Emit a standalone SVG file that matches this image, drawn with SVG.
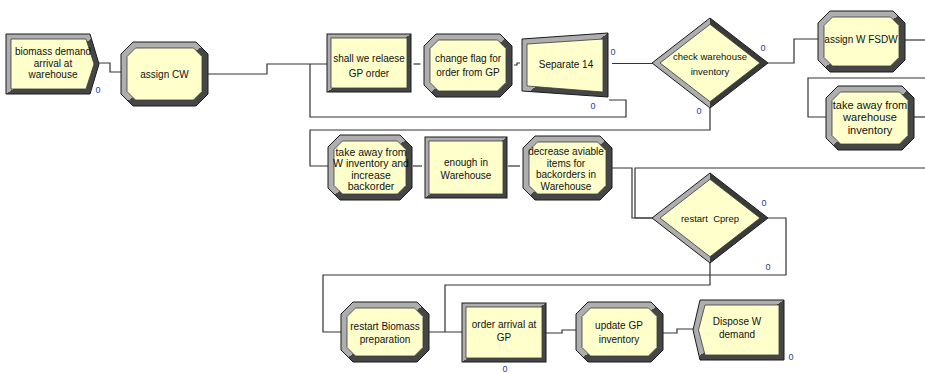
<svg xmlns="http://www.w3.org/2000/svg" width="925" height="373" viewBox="0 0 925 373">
<defs>
<linearGradient id="bv" x1="0" y1="0" x2="1" y2="1"><stop offset="0.5" stop-color="#aeaeae"/><stop offset="0.5" stop-color="#464646"/></linearGradient>
<linearGradient id="bvd" x1="0" y1="0" x2="1" y2="0"><stop offset="0.5" stop-color="#aeaeae"/><stop offset="0.5" stop-color="#3a3a3a"/></linearGradient>
<style>
.r{fill:url(#bv);stroke:#1a1a1a;stroke-width:1}
.rd{fill:url(#bvd);stroke:#1a1a1a;stroke-width:1}
.in{fill:#ffffcc;stroke:#3a3a3a;stroke-width:0.8}
.t{font-family:'Liberation Sans',Arial,sans-serif;font-size:10px;fill:#111;text-anchor:middle}
.z{font-family:'Liberation Sans',Arial,sans-serif;font-size:9px;fill:#1c3c9c;text-anchor:middle}
.c{fill:none;stroke:#333;stroke-width:1.2}
</style>
</defs>
<rect width="925" height="373" fill="#fff"/>
<g id="connectors">
<polyline class="c" points="99,63 110,63 110,72 121,72"/>
<polyline class="c" points="208,74 267,74 267,64 327,64"/>
<polyline class="c" points="609,100 626,100 626,117 310,117 310,64"/>
<polyline class="c" points="413.5,64 420.5,64"/>
<polyline class="c" points="514,65 517,65 517,63 520,63"/>
<polyline class="c" points="612,63.5 652,63.5"/>
<polyline class="c" points="768,63 794,63 794,39 818,39"/>
<polyline class="c" points="905,40 925,40"/>
<polyline class="c" points="925,78 808,78 808,117 826,117"/>
<polyline class="c" points="914,117 925,117"/>
<polyline class="c" points="710,108 710,130 310,130 310,166 328,166"/>
<polyline class="c" points="413,166 422,166"/>
<polyline class="c" points="508,166 520,166"/>
<polyline class="c" points="612,168 632,168 632,218 652,218"/>
<polyline class="c" points="925,168 635,168 635,218 652,218"/>
<polyline class="c" points="768,218 786,218 786,275 323,275 323,332 341,332"/>
<polyline class="c" points="710,263 710,285 445,285 445,332"/>
<polyline class="c" points="429,332 462,332"/>
<polyline class="c" points="546,333 562,333 562,330 576,330"/>
<polyline class="c" points="663,333 677,333 677,329 693,329"/>
</g>
<g id="biomass-demand-arrival">
<polygon class="r" points="6,34 90,34 99,64 90,94 6,94"/>
<polygon class="in" points="11,39 86,39 94,64 86,89 11,89"/>
<text class="t" x="53" y="55">biomass demand</text>
<text class="t" x="53" y="66.5">arrival at</text>
<text class="t" x="53" y="78">warehouse</text>
<text class="z" x="98" y="93">0</text>
</g>
<g id="assign-cw">
<polygon class="r" points="133,42 196,42 208,54 208,94 196,106 133,106 121,94 121,54"/>
<polygon class="in" points="135.5,48 193.5,48 202,56.5 202,91.5 193.5,100 135.5,100 127,91.5 127,56.5"/>
<text class="t" x="164.5" y="77.5">assign CW</text>
</g>
<g id="shall-we-release">
<rect class="r" x="327" y="34" width="84" height="58"/>
<rect class="in" x="331" y="38" width="76" height="50"/>
<text class="t" x="369" y="61.5">shall we relaese</text>
<text class="t" x="369" y="77">GP order</text>
</g>
<g id="change-flag">
<polygon class="r" points="436,34 500,34 512,46 512,85 500,97 436,97 424,85 424,46"/>
<polygon class="in" points="438.5,40 497.5,40 506,48.5 506,82.5 497.5,91 438.5,91 430,82.5 430,48.5"/>
<text class="t" x="468" y="61.5">change flag for</text>
<text class="t" x="468" y="76">order from GP</text>
</g>
<g id="separate-14">
<polygon class="r" points="522,39 608,33 608,97 522,91"/>
<polygon class="in" points="527,44 603,39 603,92 527,86"/>
<text class="t" x="566" y="67.5">Separate 14</text>
<text class="z" x="613" y="55">0</text>
<text class="z" x="593" y="109">0</text>
</g>
<g id="check-warehouse-inventory">
<polygon class="rd" points="652,63 710,18 768,63 710,108"/>
<polygon class="in" points="660,63 710,24.3 760,63 710,101.7"/>
<text class="t" x="710" y="60" style="font-size:9.5px">check warehouse</text>
<text class="t" x="710" y="75" style="font-size:9.5px">inventory</text>
<text class="z" x="763" y="50.5">0</text>
<text class="z" x="699" y="113.5">0</text>
</g>
<g id="assign-w-fsdw">
<polygon class="r" points="830,11 893,11 905,23 905,60 893,72 830,72 818,60 818,23"/>
<polygon class="in" points="832.5,17 890.5,17 899,25.5 899,57.5 890.5,66 832.5,66 824,57.5 824,25.5"/>
<text class="t" x="861" y="42.5">assign W FSDW</text>
</g>
<g id="take-away-warehouse">
<polygon class="r" points="838,86 902,86 914,98 914,138 902,150 838,150 826,138 826,98"/>
<polygon class="in" points="840.5,92 899.5,92 908,100.5 908,135.5 899.5,144 840.5,144 832,135.5 832,100.5"/>
<text class="t" x="870" y="109" style="font-size:11px">take away from</text>
<text class="t" x="870" y="121" style="font-size:11px">warehouse</text>
<text class="t" x="870" y="133.5" style="font-size:11px">inventory</text>
</g>
<g id="take-away-w-inventory">
<polygon class="r" points="340,135 400,135 412,147 412,188 400,200 340,200 328,188 328,147"/>
<polygon class="in" points="342.5,141 397.5,141 406,149.5 406,185.5 397.5,194 342.5,194 334,185.5 334,149.5"/>
<text class="t" x="371" y="155.5" style="font-size:10.5px">take away from</text>
<text class="t" x="371" y="167" style="font-size:10.5px">W inventory and</text>
<text class="t" x="371" y="178.5" style="font-size:10.5px">increase</text>
<text class="t" x="371" y="190" style="font-size:10.5px">backorder</text>
</g>
<g id="enough-in-warehouse">
<rect class="r" x="425" y="137" width="82" height="61"/>
<rect class="in" x="429" y="141" width="74" height="53"/>
<text class="t" x="466" y="165.5">enough in</text>
<text class="t" x="466" y="178.5">Warehouse</text>
</g>
<g id="decrease-available">
<polygon class="r" points="535,136 600,136 612,148 612,188 600,200 535,200 523,188 523,148"/>
<polygon class="in" points="537.5,142 597.5,142 606,150.5 606,185.5 597.5,194 537.5,194 529,185.5 529,150.5"/>
<text class="t" x="566" y="154.5">decrease aviable</text>
<text class="t" x="566" y="166.5">items for</text>
<text class="t" x="566" y="177.5">backorders in</text>
<text class="t" x="566" y="189.5">Warehouse</text>
</g>
<g id="restart-cprep">
<polygon class="rd" points="652,218 710,173 768,218 710,263"/>
<polygon class="in" points="660,218 710,179.3 760,218 710,256.7"/>
<text class="t" x="710" y="221.5" style="font-size:9.5px" xml:space="preserve">restart  Cprep</text>
<text class="z" x="764" y="205.5">0</text>
<text class="z" x="768" y="269.5">0</text>
</g>
<g id="restart-biomass-preparation">
<polygon class="r" points="353,302 417,302 429,314 429,350 417,362 353,362 341,350 341,314"/>
<polygon class="in" points="355.5,308 414.5,308 423,316.5 423,347.5 414.5,356 355.5,356 347,347.5 347,316.5"/>
<text class="t" x="385" y="329.5">restart Biomass</text>
<text class="t" x="385" y="342.5">preparation</text>
</g>
<g id="order-arrival-at-gp">
<rect class="r" x="462" y="303" width="84" height="59"/>
<rect class="in" x="466" y="307" width="76" height="51"/>
<text class="t" x="504" y="327.5">order arrival at</text>
<text class="t" x="504" y="340.5">GP</text>
<text class="z" x="505" y="371.5">0</text>
</g>
<g id="update-gp-inventory">
<polygon class="r" points="588,302 651,302 663,314 663,350 651,362 588,362 576,350 576,314"/>
<polygon class="in" points="590.5,308 648.5,308 657,316.5 657,347.5 648.5,356 590.5,356 582,347.5 582,316.5"/>
<text class="t" x="619" y="328.5">update GP</text>
<text class="t" x="619" y="342.5">inventory</text>
</g>
<g id="dispose-w-demand">
<polygon class="r" points="700,300 784,300 784,360 700,360 693,330"/>
<polygon class="in" points="705,305 779,305 779,355 705,355 698.5,330"/>
<text class="t" x="737" y="325">Dispose W</text>
<text class="t" x="737" y="337.5">demand</text>
<text class="z" x="791" y="360">0</text>
</g>
</svg>
